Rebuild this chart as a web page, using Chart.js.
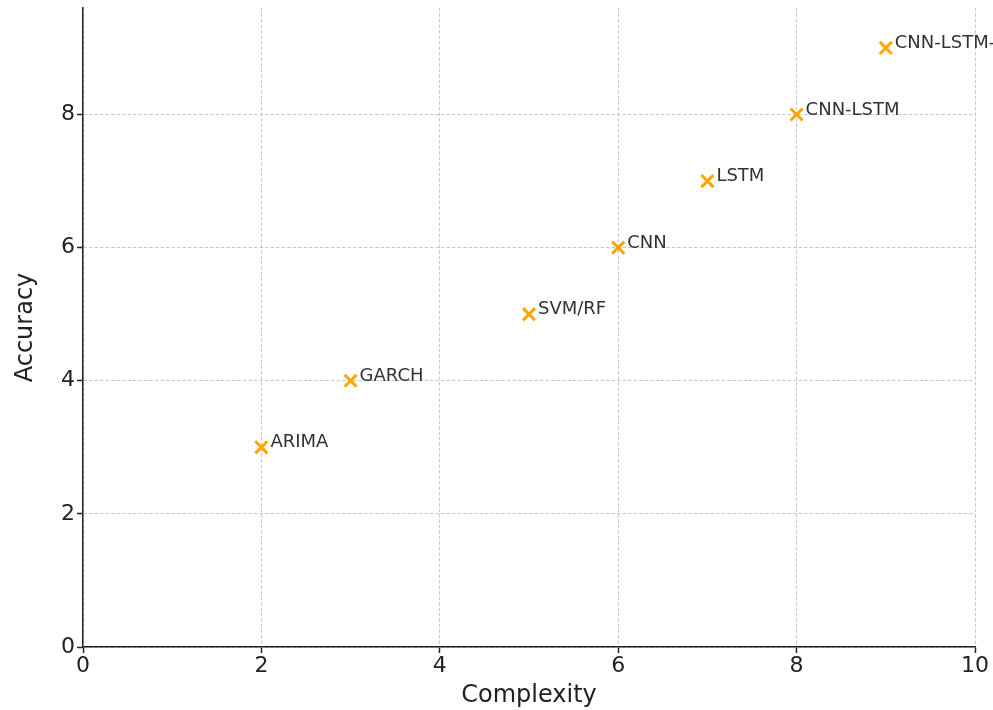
<!DOCTYPE html>
<html>
<head>
<meta charset="utf-8">
<script src="https://cdn.jsdelivr.net/npm/chart.js@4"></script>
<style>
  body { margin: 0; background: #fff; }
  #scatter-chart { display: block; }
</style>
</head>
<body>
<canvas id="scatter-chart" width="993" height="710"></canvas>
<script>
const models = ['ARIMA', 'GARCH', 'SVM/RF', 'CNN', 'LSTM', 'CNN-LSTM', 'CNN-LSTM-Attention'];
const complexity = [2, 3, 5, 6, 7, 8, 9];
const accuracy = [3, 4, 5, 6, 7, 8, 9];

const markerColor = '#FFA500';
const axisColor = '#222';

// writes the model name next to each marker
const pointLabels = {
    id: 'pointLabels',
    afterDatasetsDraw(chart) {
        const ctx = chart.ctx;
        const xScale = chart.scales.x;
        const yScale = chart.scales.y;
        ctx.save();
        ctx.font = '18px "DejaVu Sans"';
        ctx.fillStyle = '#333';
        ctx.textAlign = 'left';
        ctx.textBaseline = 'alphabetic';
        models.forEach((name, i) => {
            const px = xScale.getPixelForValue(complexity[i]);
            const py = yScale.getPixelForValue(accuracy[i]);
            ctx.fillText(name, px + 9, py);
        });
        ctx.restore();
    }
};

function main() {
    const canvas = document.querySelector('#scatter-chart');

    new Chart(canvas.getContext('2d'), {
        type: 'scatter',
        data: {
            datasets: [{
                data: complexity.map((c, i) => ({x: c, y: accuracy[i]})),
                pointStyle: 'crossRot',
                pointRadius: 8.5,
                pointHoverRadius: 8.5,
                borderWidth: 3,
                borderColor: markerColor,
                backgroundColor: markerColor,
                clip: false
            }]
        },
        options: {
            responsive: false,
            animation: false,
            // autoPadding off, otherwise the marker size pushes the plot top down
            layout: { autoPadding: false, padding: { top: 8, right: 18, left: 0, bottom: 0 } },
            plugins: {
                legend: { display: false },
                tooltip: { enabled: false }
            },
            scales: {
                x: {
                    type: 'linear',
                    min: 0,
                    max: 10,
                    afterFit: scale => { scale.height = 63; },
                    ticks: {
                        stepSize: 2,
                        includeBounds: false,
                        color: axisColor,
                        font: { family: 'DejaVu Sans', size: 22 },
                        padding: 0,
                        maxRotation: 0
                    },
                    grid: {
                        color: '#c8c8c8',
                        lineWidth: 1,
                        tickColor: axisColor,
                        tickLength: 6,
                        tickWidth: 1.5,
                        tickBorderDash: []
                    },
                    border: { display: true, color: axisColor, width: 1.5, dash: [3.5, 2] },
                    title: {
                        display: true,
                        text: 'Complexity',
                        color: axisColor,
                        font: { family: 'DejaVu Sans', size: 24 },
                        padding: { top: 0, bottom: 0 }
                    }
                },
                y: {
                    type: 'linear',
                    min: 0,
                    max: 9.6,
                    afterFit: scale => {
                        scale.width = 83;
                        scale.paddingTop = 0;
                        scale.paddingBottom = 0;
                    },
                    ticks: {
                        stepSize: 2,
                        includeBounds: false,
                        color: axisColor,
                        font: { family: 'DejaVu Sans', size: 22 },
                        padding: 2
                    },
                    grid: {
                        color: '#c8c8c8',
                        lineWidth: 1,
                        tickColor: axisColor,
                        tickLength: 6,
                        tickWidth: 1.5,
                        tickBorderDash: []
                    },
                    border: { display: true, color: axisColor, width: 1.5, dash: [3.5, 2] },
                    title: {
                        display: true,
                        text: 'Accuracy',
                        color: axisColor,
                        font: { family: 'DejaVu Sans', size: 24 },
                        padding: { top: 11, bottom: 0 }
                    }
                }
            }
        },
        plugins: [pointLabels]
    });
}

main()
</script>
</body>
</html>
